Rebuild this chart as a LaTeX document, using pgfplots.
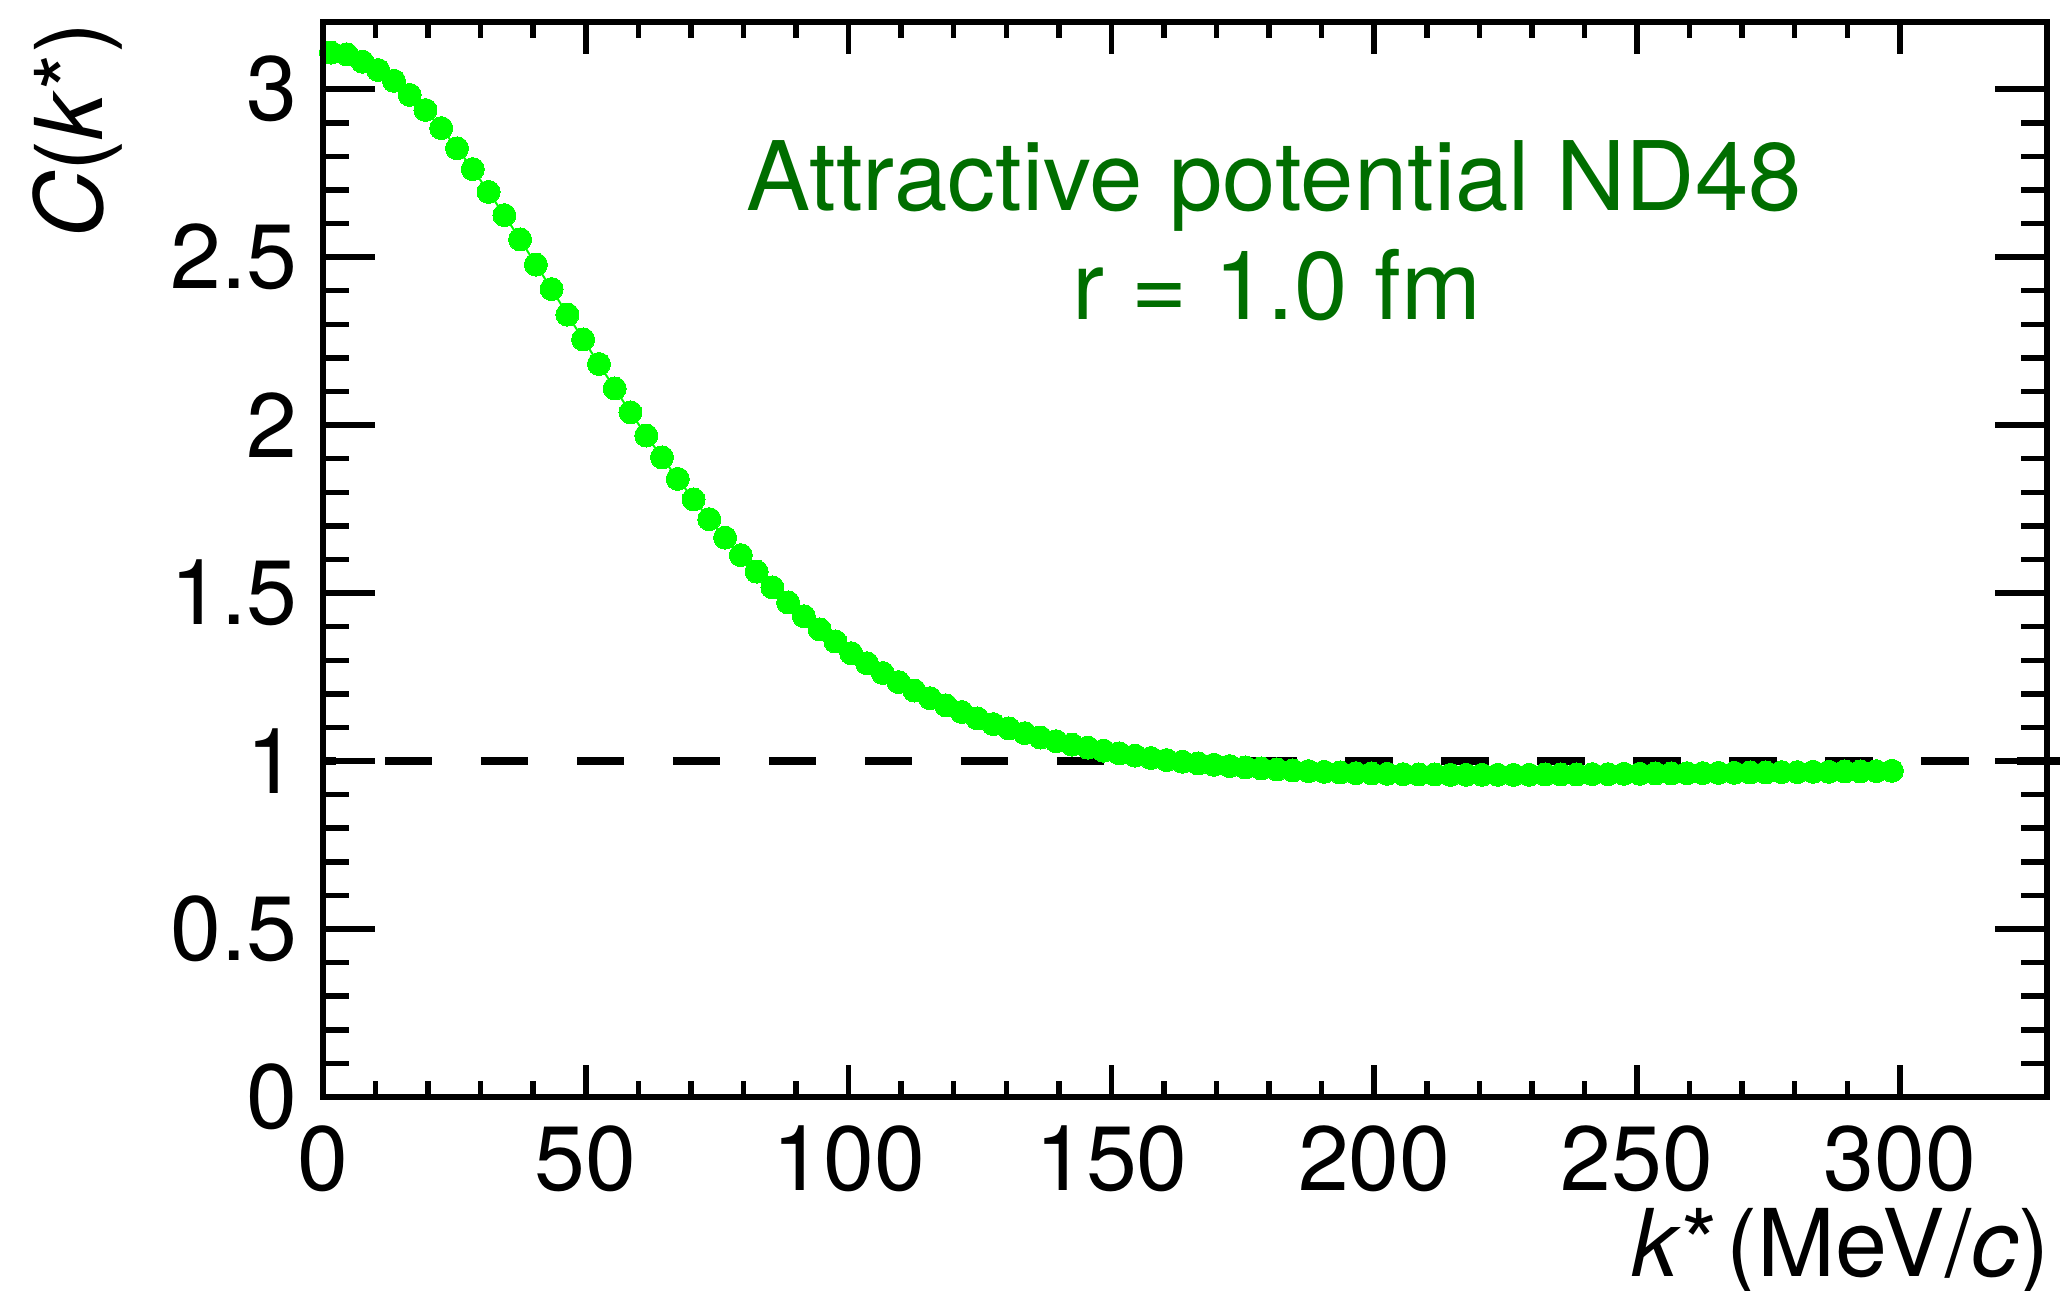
\documentclass[border=0pt]{standalone}
\usepackage{fontspec}
\setmainfont{TeX Gyre Heros}
\usepackage{pgfplots}
\usepackage{pgfplotstable}
\pgfplotsset{compat=1.18}
\definecolor{rootgreen}{RGB}{0,255,0}
\definecolor{textgreen}{RGB}{0,110,0}

% correlation function, attractive potential ND48, r = 1.0 fm
\pgfplotstableread{
k C
1.5 3.109
4.5 3.104
7.5 3.082
10.5 3.057
13.5 3.025
16.5 2.983
19.5 2.938
22.5 2.884
25.5 2.824
28.5 2.762
31.5 2.694
34.5 2.625
37.5 2.553
40.5 2.478
43.5 2.405
46.5 2.329
49.5 2.255
52.5 2.182
55.5 2.109
58.5 2.038
61.5 1.969
64.5 1.904
67.5 1.840
70.5 1.779
73.5 1.720
76.5 1.665
79.5 1.613
82.5 1.564
85.5 1.517
88.5 1.472
91.5 1.431
94.5 1.392
97.5 1.356
100.5 1.321
103.5 1.291
106.5 1.262
109.5 1.235
112.5 1.210
115.5 1.187
118.5 1.166
121.5 1.146
124.5 1.127
127.5 1.110
130.5 1.097
133.5 1.083
136.5 1.070
139.5 1.059
142.5 1.049
145.5 1.040
148.5 1.031
151.5 1.023
154.5 1.016
157.5 1.009
160.5 1.003
163.5 0.998
166.5 0.993
169.5 0.989
172.5 0.985
175.5 0.981
178.5 0.978
181.5 0.975
184.5 0.972
187.5 0.970
190.5 0.968
193.5 0.966
196.5 0.964
199.5 0.963
202.5 0.962
205.5 0.961
208.5 0.960
211.5 0.960
214.5 0.959
217.5 0.959
220.5 0.959
223.5 0.959
226.5 0.959
229.5 0.959
232.5 0.960
235.5 0.960
238.5 0.960
241.5 0.961
244.5 0.961
247.5 0.962
250.5 0.962
253.5 0.963
256.5 0.963
259.5 0.964
262.5 0.964
265.5 0.965
268.5 0.965
271.5 0.966
274.5 0.966
277.5 0.967
280.5 0.967
283.5 0.968
286.5 0.968
289.5 0.969
292.5 0.969
295.5 0.970
298.5 0.971
}\corrdata

\newcommand{\bigfont}{\fontsize{26}{31}\selectfont}
\newcommand{\labfont}{\fontsize{26.6}{32}\selectfont}
\newcommand{\txtfont}{\fontsize{27.3}{33}\selectfont}

\begin{document}
\begin{tikzpicture}
\pgfplotsset{
  rootframe/.style={
    scale only axis,
    width=172.4mm, height=107.5mm,
    at={(0,0)}, anchor=south west,
    xmin=0, xmax=328, ymin=0, ymax=3.2,
    axis line style={line width=0.6mm},
    tick style={line width=0.55mm, black},
    tick align=inside,
    tick label style={font=\bigfont},
    /pgf/number format/assume math mode=true,
  },
}
% y ticks, data, text
\begin{axis}[rootframe,
  clip=false,
  xtick=\empty, minor x tick num=0,
  ytick={0,0.5,1,1.5,2,2.5,3}, minor y tick num=4,
  major tick length=5.2mm, minor tick length=2.6mm,
  yticklabel style={anchor=east, inner sep=0pt, xshift=-2.5mm},
  ylabel={\textit{C}(\textit{k}*)},
  every axis y label/.style={at={(axis description cs:0,1)}, xshift=-22mm,
    rotate=90, anchor=base east, inner sep=0pt, font=\labfont},
]
\addplot[rootgreen, line width=0.2mm, mark=*, mark size=1.15mm,
  mark options={fill=rootgreen, draw=rootgreen, line width=0pt}]
  table[x=k, y=C] {\corrdata};
\addplot[black, line width=0.73mm, dash pattern=on 4.75mm off 4.85mm,
  dash phase=3.4mm] coordinates {(0,1) (331,1)};
\node[anchor=base, text=textgreen, font=\txtfont, inner sep=0pt]
  at (axis cs:181,2.640) {Attractive potential ND48};
\node[anchor=base, text=textgreen, font=\txtfont, inner sep=0pt]
  at (axis cs:181.5,2.315) {r = 1.0 fm};
\end{axis}
% x ticks and label
\begin{axis}[rootframe,
  ytick=\empty, minor y tick num=0,
  xtick={0,50,100,150,200,250,300}, minor x tick num=4,
  major tick length=3.2mm, minor tick length=1.6mm,
  xticklabel style={anchor=north, inner sep=0pt, yshift=-2.8mm},
  xlabel={\textit{k}*\kern0.1em(MeV/\textit{c})},
  every axis x label/.style={at={(axis description cs:1,0)}, yshift=-18mm,
    xshift=0.3mm, anchor=base east, inner sep=0pt, font=\labfont},
]
\end{axis}
\pgfresetboundingbox
\path[use as bounding box] (-32.3mm,-19.4mm) rectangle (173.7mm,109.7mm);
\end{tikzpicture}
\end{document}
